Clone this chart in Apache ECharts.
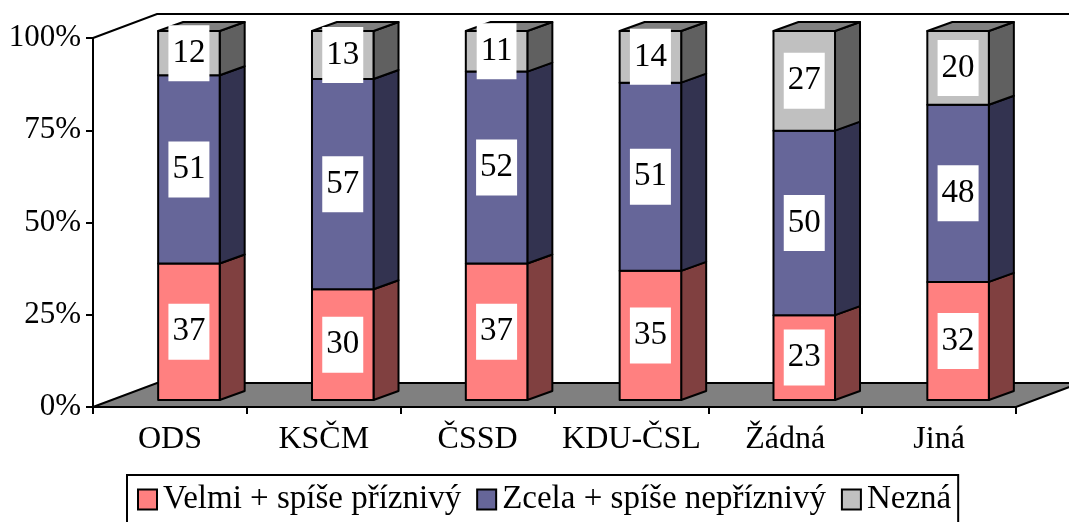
<!DOCTYPE html>
<html>
<head>
<meta charset="utf-8">
<script src="https://cdn.jsdelivr.net/npm/echarts@6/dist/echarts.min.js"></script>
<style>html,body{margin:0;padding:0;background:#fff;}#c{width:1069px;height:522px;}</style>
</head>
<body>
<div id="c"></div>
<script>
const categories = ['ODS', 'KSČM', 'ČSSD', 'KDU-ČSL', 'Žádná', 'Jiná'];
const favorable = [37, 30, 37, 35, 23, 32];
const unfavorable = [51, 57, 52, 51, 50, 48];
const unknown = [12, 13, 11, 14, 27, 20];
const seriesNames = ['Velmi + spíše příznivý', 'Zcela + spíše nepříznivý', 'Nezná'];

const FONT = '"Liberation Serif", "Times New Roman", serif';
const FS = 32;
const LFS = 33;
const G = {left: 93, right: 53, top: 38, bottom: 115};
const W = 1069, H = 522;
const wallDx = 64, wallDy = -24;
const frontDx = 19, frontDy = -7;
const depthDx = 25, depthDy = -9;

const palettes = [
  {front: '#FF8080', side: '#804040', top: '#C06060'},
  {front: '#666699', side: '#333350', top: '#4D4D73'},
  {front: '#C0C0C0', side: '#606060', top: '#808080'}
];

const seriesValues = [favorable, unfavorable, unknown];
const stacked = seriesValues.map((vals, s) => vals.map((v, i) => {
  let lo = 0;
  for (let k = 0; k < s; k++) lo += seriesValues[k][i];
  return [i, lo, lo + v, v];
}));

function makeRender(s) {
  const pal = palettes[s];
  const isTop = s === seriesValues.length - 1;
  return function (params, api) {
    const idx = api.value(0), lo = api.value(1), hi = api.value(2), v = api.value(3);
    const pb = api.coord([idx, lo]);
    const pt = api.coord([idx, hi]);
    const bw = api.size([1, 0])[0] * 0.4;
    const cx = pb[0] + frontDx;
    const x0 = cx - bw / 2, x1 = cx + bw / 2;
    const yb = pb[1] + frontDy, yt = pt[1] + frontDy;
    const st = {stroke: '#000', lineWidth: 2, lineJoin: 'round'};
    const children = [
      {type: 'polygon', shape: {points: [[x1, yb], [x1 + depthDx, yb + depthDy], [x1 + depthDx, yt + depthDy], [x1, yt]]},
       style: Object.assign({fill: pal.side}, st)},
      {type: 'rect', shape: {x: x0, y: yt, width: bw, height: yb - yt}, style: Object.assign({fill: pal.front}, st)}
    ];
    if (isTop) {
      children.push({type: 'polygon', shape: {points: [[x0, yt], [x1, yt], [x1 + depthDx, yt + depthDy], [x0 + depthDx, yt + depthDy]]},
        style: Object.assign({fill: pal.top}, st)});
    }
    children.push({type: 'text', z2: 10, style: {
      text: String(v), x: cx, y: (yb + yt) / 2, align: 'center', verticalAlign: 'middle',
      font: LFS + 'px ' + FONT, fill: '#000', backgroundColor: '#fff', padding: [12, 4, 11, 4]
    }});
    return {type: 'group', children: children};
  };
}

const chart = echarts.init(document.getElementById('c'), null, {renderer: 'canvas'});
const x0 = G.left, yBase = H - G.bottom, xEnd = W - G.right, yTop = G.top;

const option = {
  animation: false,
  backgroundColor: '#fff',
  grid: G,
  legend: {
    left: 127, top: 475,
    data: seriesNames.map((n, i) => ({name: n, icon: 'rect', itemStyle: {color: palettes[i].front, borderColor: '#000', borderWidth: 2}})),
    itemWidth: 19, itemHeight: 20, itemGap: 15,
    padding: [8, 7, 20, 10],
    borderColor: '#000', borderWidth: 2, backgroundColor: '#fff',
    textStyle: {fontFamily: FONT, fontSize: LFS, color: '#000', padding: [0, 0, 0, 1]}
  },
  xAxis: {
    type: 'category', data: categories,
    axisLine: {lineStyle: {color: '#000', width: 2}},
    axisTick: {show: true, interval: 0, length: 7, lineStyle: {color: '#000', width: 2}},
    axisLabel: {interval: 0, color: '#000', fontFamily: FONT, fontSize: FS, margin: 17}
  },
  yAxis: {
    type: 'value', min: 0, max: 100, interval: 25,
    axisLine: {show: true, lineStyle: {color: '#000', width: 2}},
    axisTick: {show: true, length: 7, lineStyle: {color: '#000', width: 2}},
    axisLabel: {color: '#000', fontFamily: FONT, fontSize: 31, margin: 12, formatter: '{value}%'},
    splitLine: {show: false}
  },
  graphic: {elements: [
    {type: 'polygon', z: -5, shape: {points: [[x0, yBase], [x0 + wallDx, yBase + wallDy], [xEnd + wallDx, yBase + wallDy], [xEnd, yBase]]},
     style: {fill: '#808080', stroke: '#000', lineWidth: 2}},
    {type: 'polyline', z: -5, shape: {points: [[x0, yTop], [x0 + wallDx, yTop + wallDy], [xEnd + wallDx, yTop + wallDy]]},
     style: {fill: null, stroke: '#000', lineWidth: 2}}
  ]},
  series: seriesNames.map((n, s) => ({
    name: n, type: 'custom', z: 5,
    itemStyle: {color: palettes[s].front},
    renderItem: makeRender(s),
    encode: {x: 0, y: [1, 2]},
    data: stacked[s]
  }))
};
chart.setOption(option);
</script>
</body>
</html>
